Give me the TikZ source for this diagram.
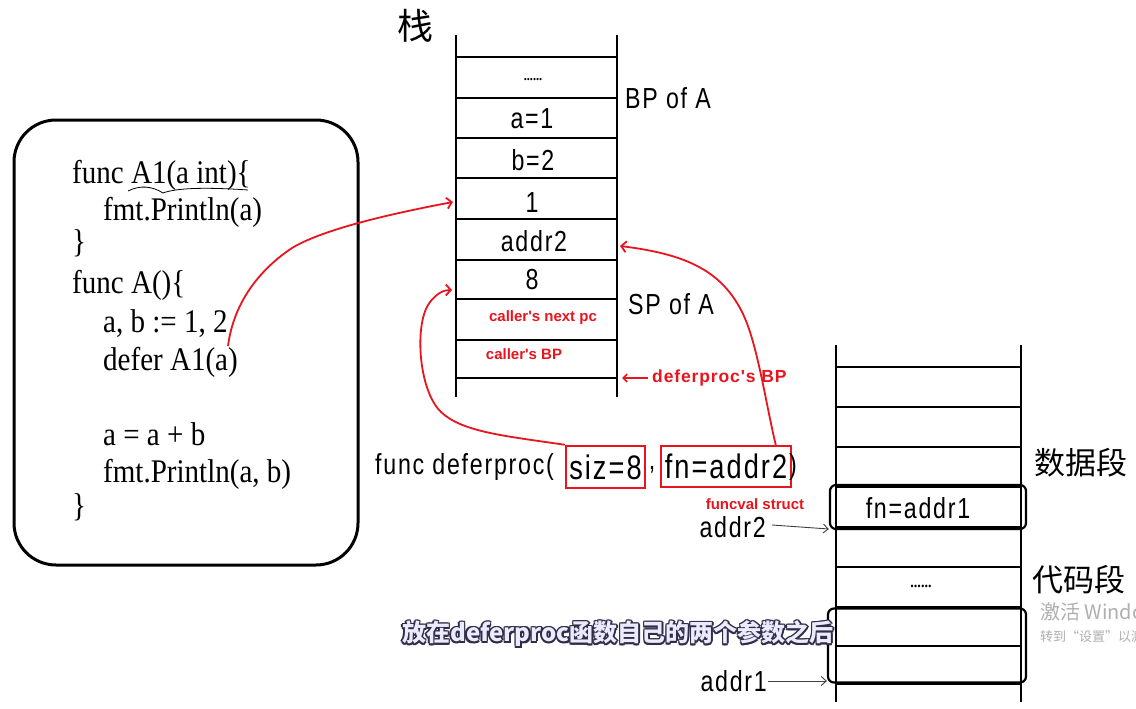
\documentclass[tikz,border=0pt]{standalone}
\usepackage{fontspec}
\setmainfont[FakeStretch=0.88]{Liberation Serif}
\newfontfamily\hand[FakeStretch=0.8,LetterSpace=6]{Liberation Sans}
\newfontfamily\redfont{Liberation Sans}
\newfontfamily\redwide[LetterSpace=5]{Liberation Sans}
\newfontfamily\cjk{Noto Sans CJK SC}
\usetikzlibrary{arrows.meta}
\definecolor{annred}{RGB}{232,20,30}
\definecolor{subdark}{RGB}{50,45,70}
\definecolor{wmgray}{RGB}{175,175,175}
\tikzset{
  codetxt/.style={anchor=base west,inner sep=0pt,font=\fontsize{33}{33}\selectfont},
  handtxt/.style={inner sep=0pt,font=\hand\fontsize{29}{29}\selectfont},
  bigtxt/.style={inner sep=0pt,font=\hand\fontsize{34}{34}\selectfont},
  redtxt/.style={inner sep=0pt,text=annred,font=\redfont\bfseries\fontsize{15}{15}\selectfont},
  cjktxt/.style={inner sep=0pt,font=\cjk\fontsize{31}{31}\selectfont},
  stackline/.style={line width=2pt,black},
  redline/.style={line width=1.8pt,annred,-{Straight Barb[length=5pt,width=11pt,line width=1.8pt]}},
  redbox/.style={draw=annred,line width=2.5pt,inner sep=0pt},
  thinarrow/.style={line width=0.9pt,black!75,-{Straight Barb[length=5pt,width=9pt]}},
  segbox/.style={draw,line width=2.2pt,rounded corners=6pt},
}
\begin{document}
\begin{tikzpicture}[x=1pt,y=-1pt]
\useasboundingbox (0,0) rectangle (1136,709);
\fill[white] (0,0) rectangle (1136,709);

% ---------- code box ----------
\draw[line width=3pt,rounded corners=42pt] (14,120) rectangle (358,565);
\node[codetxt] (c1) at (72,183) {func A1(a int)\{};
\node[codetxt] (c2) at (103,220) {fmt.Println(a)};
\node[codetxt] (c3) at (72,252) {\}};
\node[codetxt] (c4) at (72,293) {func A()\{};
\node[codetxt] (c5) at (103,332) {a, b := 1, 2};
\node[codetxt] (c6) at (103,370) {defer A1(a)};
\node[codetxt] (c7) at (103,445) {a = a + b};
\node[codetxt] (c8) at (103,482) {fmt.Println(a, b)};
\node[codetxt] (c9) at (72,516) {\}};
\coordinate (wv1) at (128,191);
\coordinate (wv2) at (248,190);
\draw[line width=0.8pt] (wv1) .. controls (140,185) and (152,186) .. (163,193) .. controls (176,188) and (205,187) .. (wv2);

% ---------- stack ----------
\node[inner sep=0pt,font=\cjk\fontsize{36}{36}\selectfont] (zhan) at (415,26) {栈};
\draw[stackline] (456,35) -- (456,397);
\draw[stackline] (617,35) -- (617,397);
\foreach \yy in {57,98,138,178,219,260,299,340,378}
  \draw[stackline] (456,\yy) -- (617,\yy);
\node[inner sep=0pt,font=\bfseries\fontsize{14}{14}\selectfont] (s0) at (533,80) {......};
\node[handtxt] (s1) at (532,119) {a=1};
\node[handtxt] (s2) at (533,160) {b=2};
\node[handtxt] (s3) at (532,203) {1};
\node[handtxt] (s4) at (534,241) {addr2};
\node[handtxt] (s5) at (532,280) {8};
\node[redtxt] (s6) at (543,318) {caller's next pc};
\node[redtxt] (s7) at (524,354) {caller's BP};
\node[handtxt,anchor=west] (bpa) at (625,98) {BP of A};
\node[handtxt,anchor=west] (spa) at (628,304) {SP of A};
\node[redtxt,anchor=west,font=\redwide\bfseries\fontsize{17.5}{17.5}\selectfont] (dbp) at (652,378) {deferproc's BP};
\coordinate (bpend) at (622,378);
\draw[line width=1.6pt,annred,-{Straight Barb[length=4pt,width=8pt]}] ([xshift=-4pt]dbp.west) -- (bpend);

% ---------- deferproc call ----------
\node[handtxt,anchor=west] (fdp) at (375,467) {func deferproc(};
\node[redbox,bigtxt,minimum width=79pt,minimum height=42pt] (siz) at (605.5,467) {siz=8};
\node[handtxt] (comma) at (652,470) {,};
\node[redbox,bigtxt,minimum width=130pt,minimum height=41pt] (fn) at (726,466.5) {fn=addr2};
\node[handtxt,anchor=west] (rpar) at (789,467) {)};

% ---------- red connectors ----------
\coordinate (a1s) at (228,346);
\coordinate (a1e) at (453,202);
\draw[redline] (a1s) .. controls (234,300) and (262,268) .. (292,248) .. controls (325,228) and (400,212) .. (a1e);
\coordinate (a2e) at (452,290);
\draw[redline] (siz.north west) .. controls (505,436) and (462,432) .. (441,412) .. controls (418,390) and (414,322) .. (430,302) .. controls (437,293) and (444,290) .. (a2e);
\coordinate (a3s) at (776,446);
\coordinate (a3e) at (620,246);
\draw[redline] (a3s) .. controls (765,400) and (757,340) .. (741,310) .. controls (720,270) and (685,254) .. (a3e);

% ---------- data / code segments ----------
\draw[stackline] (836,345) -- (836,702);
\draw[stackline] (1021,345) -- (1021,702);
\foreach \yy in {367,407,447,487,527,567,607,646,684}
  \draw[stackline] (836,\yy) -- (1021,\yy);
\node[segbox,minimum width=196pt,minimum height=44pt] (fnbox) at (928,507) {};
\node[handtxt] (fna1) at (918,508) {fn=addr1};
\node[inner sep=0pt,font=\bfseries\fontsize{16}{16}\selectfont] (dots2) at (921,586) {......};
\node[segbox,minimum width=198pt,minimum height=74pt] (codebox) at (927,645.5) {};
\node[cjktxt,anchor=west] (data) at (1034,463) {数据段};
\node[cjktxt,anchor=west] (code) at (1032,580) {代码段};
\node[redtxt] (fvs) at (755,504) {funcval struct};
\node[handtxt,anchor=east] (ad2) at (766,527) {addr2};
\node[handtxt,anchor=east] (ad1) at (767,681) {addr1};
\draw[thinarrow] (ad2.east) ++(6pt,2pt) -- (fnbox.west |- 0,529);
\draw[thinarrow] (ad1.east) ++(1pt,0pt) -- (codebox.west |- 0,681);

% ---------- subtitle & watermark ----------
\foreach \dx/\dy in {-1.6/0,1.6/0,0/-1.6,0/1.6,-1.2/-1.2,1.2/1.2,-1.2/1.2,1.2/-1.2}
  \node[inner sep=0pt,text=subdark,font=\cjk\bfseries\fontsize{24}{24}\selectfont] at (618+\dx,634+\dy) {放在deferproc函数自己的两个参数之后};
\node[inner sep=0pt,text=white!92!blue,font=\cjk\bfseries\fontsize{24}{24}\selectfont] (sub) at (618,634) {放在deferproc函数自己的两个参数之后};
\node[inner sep=0pt,anchor=west,text=wmgray,font=\cjk\fontsize{20}{20}\selectfont] (wm1) at (1040,612) {激活 Windows};
\node[inner sep=0pt,anchor=west,text=wmgray,font=\cjk\fontsize{13}{13}\selectfont] (wm2) at (1040,637) {转到“设置”以激活 Windows。};
\end{tikzpicture}
\end{document}
